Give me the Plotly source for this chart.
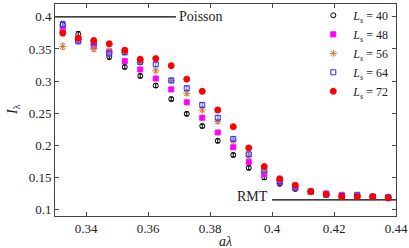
import plotly.graph_objects as go

a_lambda = [0.3325, 0.3375, 0.3425, 0.3475, 0.3525, 0.3575, 0.3625, 0.3675, 0.3725, 0.3775, 0.3825,
            0.3875, 0.3925, 0.3975, 0.4025, 0.4075, 0.4125, 0.4175, 0.4225, 0.4275, 0.4325, 0.4375]

I_40 = [0.388, 0.373, 0.357, 0.338, 0.322, 0.308, 0.293, 0.272, 0.249, 0.230, 0.207,
        0.185, 0.165, 0.150, 0.140, 0.132, 0.128, 0.124, 0.121, 0.121, 0.120, 0.119]
I_48 = [0.381, 0.364, 0.354, 0.346, 0.331, 0.318, 0.304, 0.287, 0.267, 0.243, 0.220,
        0.197, 0.174, 0.155, 0.143, 0.134, 0.128, 0.125, 0.123, 0.121, 0.120, 0.119]
I_56 = [0.354, 0.365, 0.350, 0.347, 0.344, 0.329, 0.316, 0.301, 0.281, 0.255, 0.237,
        0.207, 0.183, 0.160, 0.145, 0.135, 0.128, 0.124, 0.121, 0.121, 0.120, 0.119]
I_64 = [0.388, 0.362, 0.360, 0.343, 0.345, 0.330, 0.326, 0.301, 0.289, 0.263, 0.243,
        0.210, 0.186, 0.161, 0.144, 0.134, 0.128, 0.123, 0.121, 0.123, 0.120, 0.119]
I_72 = [0.375, 0.367, 0.363, 0.358, 0.348, 0.334, 0.335, 0.324, 0.303, 0.284, 0.255,
        0.229, 0.196, 0.167, 0.148, 0.138, 0.128, 0.124, 0.120, 0.120, 0.120, 0.118]

err = [0.005, 0.004, 0.004, 0.004, 0.003, 0.003, 0.003, 0.003, 0.003, 0.003, 0.003,
       0.003, 0.003, 0.003, 0.002, 0.002, 0.002, 0.002, 0.002, 0.002, 0.002, 0.002]

labels = ["40", "48", "56", "64", "72"]

POISSON = 0.4
POISSON_X = [0.33, 0.369]
RMT = 0.115
RMT_X = [0.4, 0.44]

series = [
    (I_40, "#000000", "#000000", "circle-open", 5),
    (I_48, "#ff00ff", "#ff66ff", "square", 5),
    (I_56, "#d0783a", "#d8955a", "asterisk-open", 6),
    (I_64, "#2a2aff", "#6f6fff", "square-open", 5),
    (I_72, "#ff0000", "#ff7070", "circle", 6),
]

fig = go.Figure()

fig.add_trace(go.Scatter(x=POISSON_X, y=[POISSON, POISSON], mode="lines",
                         line=dict(color="black", width=1.2), showlegend=False, hoverinfo="skip"))
fig.add_trace(go.Scatter(x=RMT_X, y=[RMT, RMT], mode="lines",
                         line=dict(color="black", width=1.2), showlegend=False, hoverinfo="skip"))

for (vals, col, ecol, sym, sz), lab in zip(series, labels):
    fig.add_trace(go.Scatter(
        x=a_lambda, y=vals, mode="markers",
        name="<i>L<sub>s</sub></i> = " + lab,
        marker=dict(symbol=sym, color=col, size=sz, line=dict(color=col, width=1)),
        error_y=dict(type="data", array=err, color=ecol, thickness=1, width=2),
    ))

serif = "Liberation Serif, DejaVu Serif, serif"
txtcol = "#222222"

fig.add_annotation(x=POISSON_X[1], y=POISSON, text="Poisson", showarrow=False,
                   xanchor="left", yanchor="middle", xshift=1, font=dict(size=14, family=serif, color=txtcol))
fig.add_annotation(x=RMT_X[0], y=RMT, text="RMT", showarrow=False,
                   xanchor="right", yanchor="bottom", xshift=-2, yshift=-6, font=dict(size=14, family=serif, color=txtcol))

# axis titles
fig.add_annotation(xref="paper", yref="paper", x=0.5, y=0, yanchor="top", yshift=-16,
                   text="<i>aλ</i>", showarrow=False, font=dict(size=14, family=serif, color=txtcol))
fig.add_annotation(xref="paper", yref="paper", x=0, y=0.5, xanchor="center", xshift=-42,
                   text="<i>I</i><sub>λ</sub>", textangle=-90, showarrow=False,
                   font=dict(size=14, family=serif, color=txtcol))

axis_common = dict(showline=True, linecolor="#444", linewidth=1, mirror="ticks", automargin=False,
                   ticks="inside", ticklen=4, tickcolor="#444", showgrid=False, zeroline=False,
                   tickfont=dict(size=13, family=serif, color=txtcol))

fig.update_xaxes(range=[0.33, 0.44], tickvals=[0.34, 0.36, 0.38, 0.4, 0.42, 0.44],
                 ticktext=["0.34", "0.36", "0.38", "0.4", "0.42", "0.44"], **axis_common)
fig.update_yaxes(range=[0.09, 0.42], tickvals=[0.1, 0.15, 0.2, 0.25, 0.3, 0.35, 0.4],
                 ticktext=["0.1", "0.15", "0.2", "0.25", "0.3", "0.35", "0.4"], **axis_common)

fig.update_layout(
    width=409, height=248,
    margin=dict(l=55, r=13, t=1, b=32),
    plot_bgcolor="white", paper_bgcolor="white",
    legend=dict(x=0.995, y=1.015, xanchor="right", yanchor="top", bgcolor="rgba(0,0,0,0)",
                font=dict(size=12, family=serif, color=txtcol), tracegroupgap=0, itemwidth=30),
)

fig.write_html("out.html", config={"displayModeBar": False},
               post_script="document.body.style.margin='0';document.body.style.overflow='hidden';")
